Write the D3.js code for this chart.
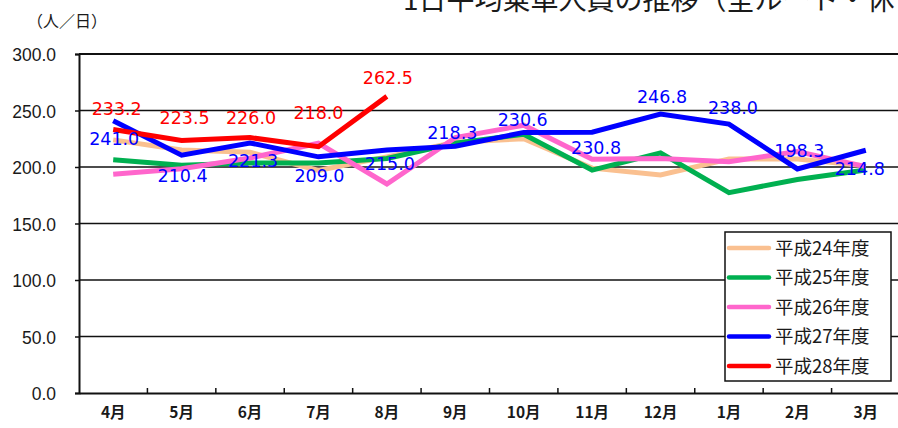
<!DOCTYPE html>
<html>
<head>
<meta charset="utf-8">
<script src="https://cdn.jsdelivr.net/npm/d3@7"></script>
<style>
  html, body { margin: 0; padding: 0; background: #fff; overflow: hidden; }
  svg { display: block; }
</style>
</head>
<body>
<svg id="chart" width="898" height="428"></svg>
<script>
// ---------- data ----------
const months = ["4月","5月","6月","7月","8月","9月","10月","11月","12月","1月","2月","3月"];
const seriesNames = ["平成24年度","平成25年度","平成26年度","平成27年度","平成28年度"];
const h24 = [224, 215, 213, 197, 209, 222, 225, 199, 193, 207, 207, 201];
const h25 = [206.5, 201.5, 203.5, 203.5, 207.5, 221, 229, 197.3, 212.5, 177.3, 189, 197.3];
const h26 = [193.5, 198.5, 208, 221, 185, 226, 237, 206.8, 207.5, 204.7, 213.6, 200.3];
const h27 = [241.0, 210.4, 221.3, 209.0, 215.0, 218.3, 230.6, 230.8, 246.8, 238.0, 198.3, 214.8];
const h28 = [233.2, 223.5, 226.0, 218.0, 262.5, null, null, null, null, null, null, null];
const yTicks = [0, 50, 100, 150, 200, 250, 300];

// ---------- layout / style ----------
const colors = ["#FAC090", "#00B050", "#FF66CC", "#0000FF", "#FF0000"];
const allSeries = [h24, h25, h26, h27, h28];
// label offsets (dx, dy from point) mimicking the manually placed labels
const blueLabelOff = [[1,24],[1,26.5],[3,24],[1,25],[3,20],[-3,-7],[-1,-6.7],[4,22],[1.5,-11.4],[4,-10],[2,-12],[-6,25]];
const redLabelOff  = [[3.5,-14.5],[3,-16.4],[1,-13.6],[0,-27.7],[1,-12]];

const svg = d3.select("#chart");
const pLeft = 79, pRight = 900, pTop = 54, pBottom = 393;

const x = d3.scaleBand().domain(months).range([pLeft, pRight]).paddingInner(0).paddingOuter(0);
const xc = m => x(m) + x.bandwidth() / 2;
const y = d3.scaleLinear().domain([0, 300]).range([pBottom, pTop]);

// gridlines
svg.append("g").selectAll("line").data(yTicks.filter(d => d > 0)).join("line")
  .attr("x1", pLeft).attr("x2", 898 + 5)
  .attr("y1", d => y(d)).attr("y2", d => y(d))
  .attr("stroke", "#111").attr("stroke-width", d => d === 300 ? 2 : 1.4);

// y axis
const yAxis = svg.append("g").attr("transform", `translate(${pLeft},0)`)
  .call(d3.axisLeft(y).tickValues(yTicks).tickFormat(d3.format(".1f")).tickSize(4).tickPadding(19));
yAxis.select(".domain").attr("stroke", "#111").attr("stroke-width", 2);
yAxis.selectAll(".tick line").attr("stroke", "#111").attr("stroke-width", 1.5);
yAxis.selectAll(".tick text")
  .attr("font-family", "'Liberation Sans', Arial, sans-serif")
  .attr("font-size", "17.5px").attr("fill", "#1a1a1a").attr("dy", "0.38em");

// x axis
const xAxis = svg.append("g").attr("transform", `translate(0,${pBottom})`)
  .call(d3.axisBottom(x).tickSize(0).tickPadding(14));
xAxis.select(".domain").attr("stroke", "#111").attr("stroke-width", 2);
xAxis.selectAll(".tick text")
  .attr("font-family", "'Noto Sans CJK JP', sans-serif")
  .attr("font-size", "15.5px").attr("font-weight", 700).attr("fill", "#1a1a1a");
// tick marks at category boundaries (inward)
svg.append("g").selectAll("line").data(months.slice(1)).join("line")
  .attr("x1", d => x(d)).attr("x2", d => x(d))
  .attr("y1", pBottom).attr("y2", pBottom - 5)
  .attr("stroke", "#111").attr("stroke-width", 1.5);

// lines
const line = d3.line()
  .defined(d => d.v !== null)
  .x(d => xc(d.m)).y(d => y(d.v));
allSeries.forEach((s, i) => {
  const pts = s.map((v, j) => ({ m: months[j], v }));
  svg.append("path").datum(pts)
    .attr("fill", "none").attr("stroke", colors[i])
    .attr("stroke-width", 5).attr("stroke-linejoin", "miter").attr("stroke-linecap", "butt")
    .attr("d", line);
});

// data labels
const labelFont = "'DejaVu Sans', sans-serif";
function labels(series, offs, color) {
  svg.append("g").selectAll("text")
    .data(series.map((v, j) => ({ m: months[j], v, j })).filter(d => d.v !== null))
    .join("text")
    .attr("x", d => xc(d.m) + offs[d.j][0])
    .attr("y", d => y(d.v) + offs[d.j][1])
    .attr("text-anchor", "middle")
    .attr("font-family", labelFont).attr("font-size", "17.5px")
    .attr("fill", color)
    .text(d => d3.format(".1f")(d.v));
}
labels(h27, blueLabelOff, "#0000FF");
labels(h28, redLabelOff, "#FF0000");

// unit label
svg.append("text").attr("x", 27).attr("y", 27)
  .attr("font-family", "'Noto Sans CJK JP', sans-serif").attr("font-size", "16px").attr("fill", "#1a1a1a")
  .text("（人／日）");

// title (cut off at the right, as in the reference)
svg.append("text").attr("x", 403).attr("y", 10)
  .attr("font-family", "'Noto Sans CJK JP', sans-serif").attr("font-size", "28px").attr("fill", "#1a1a1a")
  .text("1日平均乗車人員の推移（全ルート・休日）");

// legend
const lg = svg.append("g");
lg.append("rect").attr("x", 725).attr("y", 232).attr("width", 166).attr("height", 149)
  .attr("fill", "#fff").attr("stroke", "#111").attr("stroke-width", 1.5);
const rowY = d3.scalePoint().domain(seriesNames).range([248, 366]);
seriesNames.forEach((n, i) => {
  lg.append("line").attr("x1", 729).attr("x2", 769)
    .attr("y1", rowY(n)).attr("y2", rowY(n))
    .attr("stroke", colors[i]).attr("stroke-width", 4.5).attr("stroke-linecap", "round");
  lg.append("text").attr("x", 775).attr("y", rowY(n)).attr("dy", "0.36em")
    .attr("font-family", "'Noto Sans CJK JP', sans-serif").attr("font-size", "18.5px").attr("fill", "#1a1a1a")
    .text(n);
});
</script>
</body>
</html>
